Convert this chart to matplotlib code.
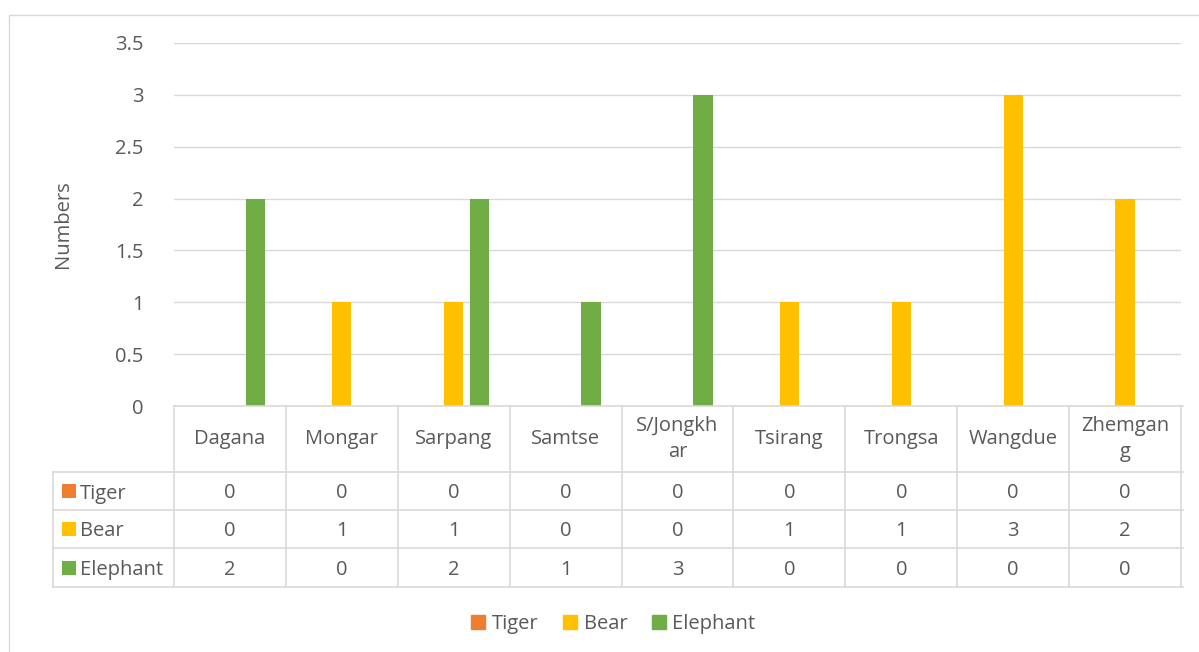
import matplotlib
matplotlib.use("Agg")
import matplotlib.pyplot as plt
from matplotlib.lines import Line2D
from matplotlib.patches import Rectangle
from matplotlib.transforms import blended_transform_factory

plt.rcParams['font.family'] = ['Open Sans', 'DejaVu Sans']

# Данные
districts = ["Dagana", "Mongar", "Sarpang", "Samtse", "S/Jongkhar",
             "Tsirang", "Trongsa", "Wangdue", "Zhemgang"]
header_labels = ["Dagana", "Mongar", "Sarpang", "Samtse", "S/Jongkh\nar",
                 "Tsirang", "Trongsa", "Wangdue", "Zhemgan\ng"]
series_names = ["Tiger", "Bear", "Elephant"]
tiger = [0, 0, 0, 0, 0, 0, 0, 0, 0]
bear = [0, 1, 1, 0, 0, 1, 1, 3, 2]
elephant = [2, 0, 2, 1, 3, 0, 0, 0, 0]
yticks = [0, 0.5, 1, 1.5, 2, 2.5, 3, 3.5]
ytick_labels = ["0", "0.5", "1", "1.5", "2", "2.5", "3", "3.5"]

COLORS = ["#ED7D31", "#FFC000", "#70AD47"]
TEXT = "#595959"
GRID = "#D9D9D9"
FS = 14.5

W, H = 1199, 652
fig = plt.figure(figsize=(W / 100, H / 100), dpi=100)


def fx(px):
    return px / W


def fy(py):
    return 1 - py / H


# Внешняя рамка
fig.add_artist(Rectangle((fx(8.5), fy(700)), 1.2, fy(14.5) - fy(700),
                         transform=fig.transFigure, fill=False,
                         edgecolor=GRID, lw=1.0))

ax_l, ax_r, ax_t, ax_b = 174, 1181, 43, 406
ax = fig.add_axes([fx(ax_l), fy(ax_b), fx(ax_r - ax_l), fy(ax_t) - fy(ax_b)])

n = len(districts)
bw = 0.172
values = [tiger, bear, elephant]
for i, (vals, col) in enumerate(zip(values, COLORS)):
    xs = [k + (i - 1) * 0.228 for k in range(n)]
    ax.bar(xs, vals, width=bw, color=col, zorder=3)

ax.set_xlim(-0.5, n - 0.5)
ax.set_ylim(0, 3.5)
ax.set_yticks(yticks)
ax.set_yticklabels(ytick_labels)
ax.tick_params(axis="y", length=0, pad=22, labelsize=FS, labelcolor=TEXT)
ax.set_xticks([])
ax.grid(axis="y", color=GRID, lw=1.0, zorder=0)
for s in ax.spines.values():
    s.set_visible(False)
ax.set_ylabel("Numbers", fontsize=FS, color=TEXT, labelpad=30)

# Таблица данных
tr = blended_transform_factory(ax.transData, fig.transFigure)
row_y = [406, 472, 510, 548, 587]
left_px = 53
for yy in row_y[:1]:
    fig.add_artist(Line2D([fx(ax_l), fx(ax_r + 2)], [fy(yy)] * 2,
                          transform=fig.transFigure, color=GRID, lw=1.2))
for yy in row_y[1:]:
    fig.add_artist(Line2D([fx(left_px), fx(ax_r + 2)], [fy(yy)] * 2,
                          transform=fig.transFigure, color=GRID, lw=1.2))
for k in range(n + 1):
    fig.add_artist(Line2D([k - 0.5, k - 0.5], [fy(row_y[0]), fy(row_y[-1])],
                          transform=tr, color=GRID, lw=1.2))
fig.add_artist(Line2D([fx(left_px)] * 2, [fy(row_y[1]), fy(row_y[-1])],
                      transform=fig.transFigure, color=GRID, lw=1.2))

hy = (row_y[0] + row_y[1]) / 2
for k, lab in enumerate(header_labels):
    fig.text(k, fy(hy), lab, transform=tr, ha="center", va="center",
             fontsize=FS, color=TEXT, linespacing=1.45)

for r, (name, vals, col) in enumerate(zip(series_names, values, COLORS)):
    cy = (row_y[r + 1] + row_y[r + 2]) / 2
    fig.add_artist(Rectangle((fx(62), fy(cy + 7)), fx(14), fy(cy - 7) - fy(cy + 7),
                             transform=fig.transFigure, color=col, lw=0))
    fig.text(fx(80), fy(cy), name, ha="left", va="center_baseline",
             fontsize=FS, color=TEXT)
    for k, v in enumerate(vals):
        fig.text(k, fy(cy), str(v), transform=tr, ha="center",
                 va="center_baseline", fontsize=FS, color=TEXT)

# Легенда
handles = [Line2D([], [], marker="s", linestyle="none", markersize=10,
                  markerfacecolor=c, markeredgecolor=c) for c in COLORS]
fig.legend(handles, series_names, loc="center", ncol=3,
           bbox_to_anchor=(fx(612), fy(624)), frameon=False,
           fontsize=FS, labelcolor=TEXT, handletextpad=0.15,
           columnspacing=1.1, handlelength=1.0)

fig.savefig("out.png", dpi=100)
